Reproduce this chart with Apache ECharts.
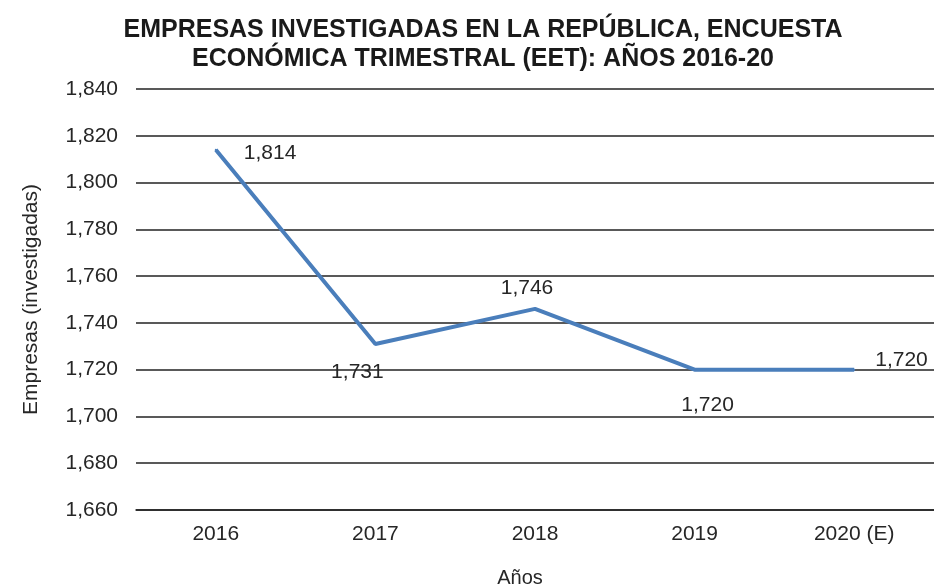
<!DOCTYPE html>
<html><head><meta charset="utf-8">
<script src="https://cdn.jsdelivr.net/npm/echarts@6/dist/echarts.min.js"></script>
<style>html,body{margin:0;padding:0;background:#fff}#c{width:934px;height:588px}</style>
</head><body><div id="c"></div>
<script>
const categories = ['2016', '2017', '2018', '2019', '2020 (E)'];
const values = [1814, 1731, 1746, 1720, 1720];
const yTicks = {min: 1660, max: 1840, interval: 20};
const titleText = 'EMPRESAS INVESTIGADAS EN LA REPÚBLICA, ENCUESTA\nECONÓMICA TRIMESTRAL (EET): AÑOS 2016-20';

const labelCfg = [
  {position: 'right', offset: [22, 3]},
  {position: 'bottom', offset: [-18, 12]},
  {position: 'top', offset: [-8, -4]},
  {position: 'bottom', offset: [13, 19]},
  {position: 'right', offset: [15, -9]}
];
const FONT = '"Liberation Sans", Arial, sans-serif';

const chart = echarts.init(document.getElementById('c'));
chart.setOption({
  animation: false,
  title: {
    text: titleText, left: 478, textAlign: 'center', top: 11,
    textStyle: {fontFamily: FONT, fontWeight: 'bold', fontSize: 25, lineHeight: 29, color: '#1a1a1a'}
  },
  grid: {left: 136, right: 0, top: 89, bottom: 78, containLabel: false, outerBoundsMode: 'none'},
  xAxis: {
    type: 'category', data: categories, boundaryGap: true,
    name: 'Años', nameLocation: 'middle', nameGap: 58,
    nameTextStyle: {fontFamily: FONT, fontSize: 20, color: '#262626', padding: [0, 30, 0, 0]},
    axisLine: {show: true, lineStyle: {color: '#222', width: 1.5}},
    axisTick: {show: false},
    axisLabel: {fontFamily: FONT, fontSize: 21, color: '#262626', margin: 14}
  },
  yAxis: {
    type: 'value', min: yTicks.min, max: yTicks.max, interval: yTicks.interval,
    name: 'Empresas (investigadas)', nameLocation: 'middle', nameGap: 94, nameRotate: 90,
    nameTextStyle: {fontFamily: FONT, fontSize: 21, color: '#262626'},
    axisLine: {show: false}, axisTick: {show: false},
    splitLine: {lineStyle: {color: '#222', width: 1.5}},
    axisLabel: {fontFamily: FONT, fontSize: 21, color: '#262626', margin: 18,
      formatter: v => v.toLocaleString('en-US')}
  },
  series: [{
    type: 'line',
    data: values.map((v, i) => ({value: v, label: {show: true, position: labelCfg[i].position, offset: labelCfg[i].offset}})),
    symbol: 'circle', symbolSize: 2, showSymbol: true,
    itemStyle: {color: '#4a7ebb'},
    lineStyle: {color: '#4a7ebb', width: 4},
    label: {show: true, fontFamily: FONT, fontSize: 21, color: '#262626',
      formatter: p => p.value.toLocaleString('en-US')}
  }]
});
</script></body></html>
